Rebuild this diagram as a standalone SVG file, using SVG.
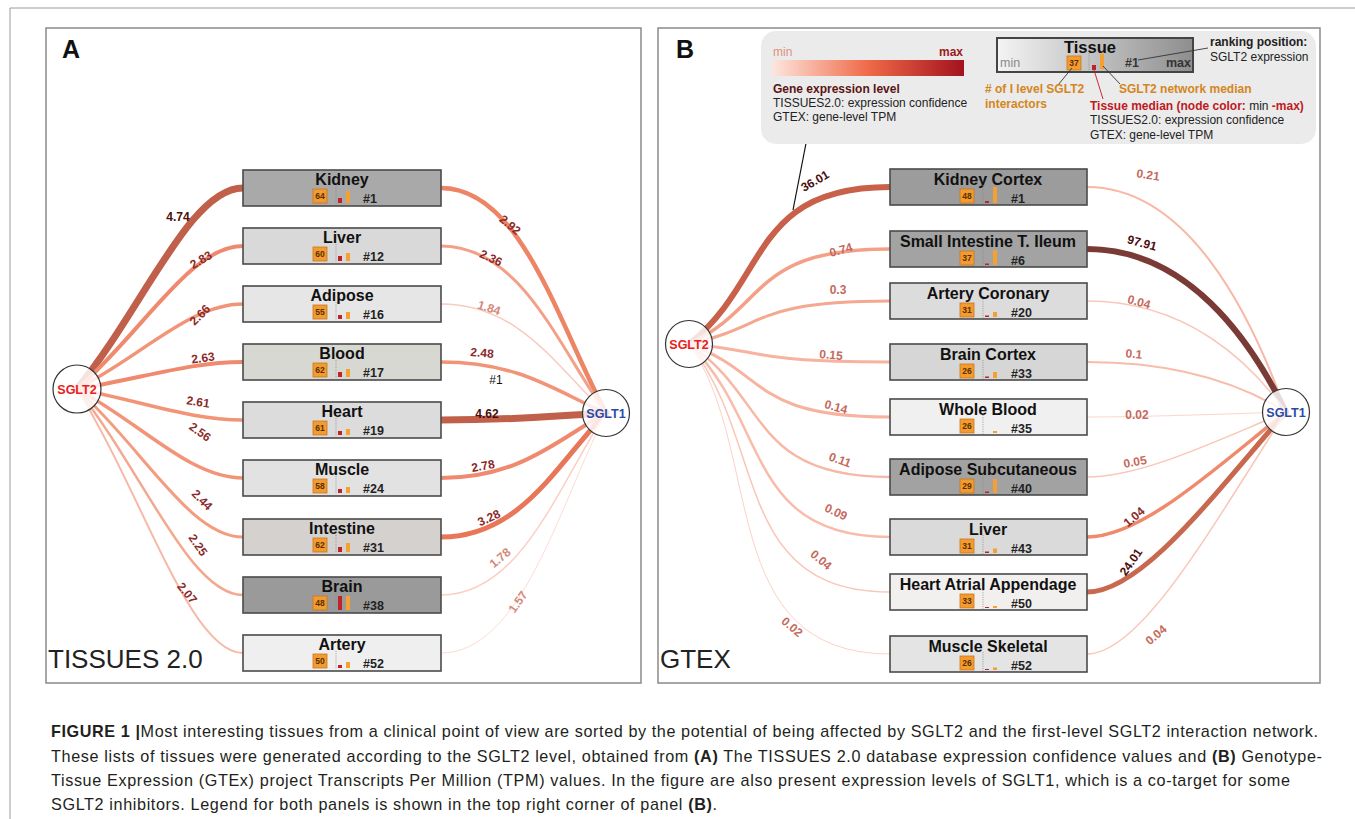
<svg xmlns="http://www.w3.org/2000/svg" width="1355" height="819" viewBox="0 0 1355 819">
<style>
text{font-family:"Liberation Sans",Arial,sans-serif}
.frame{fill:#fff;stroke:#8a8a8a;stroke-width:1.5}
.box{stroke:#4a4a4a;stroke-width:1.6}
.t{font-size:16px;font-weight:bold;text-anchor:middle;fill:#111}
.sq{fill:#f39a30;stroke:#c8781e;stroke-width:0.8}
.num{font-size:8.5px;font-weight:bold;text-anchor:middle;fill:#5a3000}
.ob{fill:#f5a030}
.rb{fill:#c0222a}
.dl{stroke:#888;stroke-width:0.8;stroke-dasharray:1 1.3}
.rk{font-size:12.5px;font-weight:bold;fill:#222}
.e{fill:none;stroke-linecap:round}
.el{font-size:12px;font-weight:bold;text-anchor:middle;fill:#8b2a2a}
.dk{fill:#4a0e0e}
.lt{fill:#d4887a}
.lb{fill:#c46a5c}
.circ{fill:#fff;fill-opacity:0.82;stroke:#333;stroke-width:1.2}
.g{font-size:12px;fill:#222}
.gb{font-size:12px;font-weight:bold}
.cap{font-size:16.2px;fill:#231f20}
.s2{font-size:12.5px;font-weight:bold;text-anchor:middle;fill:#e82020}
.s1{font-size:12.5px;font-weight:bold;text-anchor:middle;fill:#2a4aa8}
</style>
<defs>
<linearGradient id="lg" x1="0" y1="0" x2="1" y2="0">
<stop offset="0" stop-color="#fde6de"/><stop offset="0.5" stop-color="#ef6a48"/><stop offset="1" stop-color="#a3121e"/>
</linearGradient>
<linearGradient id="tg" x1="0" y1="0" x2="1" y2="0">
<stop offset="0" stop-color="#f4f4f4"/><stop offset="1" stop-color="#8e8e8e"/>
</linearGradient>
</defs>
<rect width="1355" height="819" fill="#fff"/>
<line x1="10" y1="8" x2="1355" y2="8" stroke="#9a9a9a" stroke-width="1"/>
<line x1="10" y1="8" x2="10" y2="819" stroke="#9a9a9a" stroke-width="1"/>
<rect class="frame" x="46" y="28" width="595" height="655"/>
<rect class="frame" x="658" y="28" width="662" height="655"/>
<text x="62" y="58" font-size="25" font-weight="bold" fill="#111">A</text>
<text x="676" y="58" font-size="25" font-weight="bold" fill="#111">B</text>
<text x="48" y="668" font-size="26" fill="#222">TISSUES 2.0</text>
<text x="660" y="668" font-size="26" fill="#222">GTEX</text>

<g id="connectors">
<path class="e" d="M77 389C143 308.6 190 188 243 188" stroke="#c0604a" stroke-width="7"/>
<path class="e" d="M77 389C143 331.8 190 246 243 246" stroke="#f08a6e" stroke-width="4"/>
<path class="e" d="M77 389C143 355 190 304 243 304" stroke="#f29478" stroke-width="3.5"/>
<path class="e" d="M77 389C143 378.2 190 362 243 362" stroke="#f08a6e" stroke-width="4"/>
<path class="e" d="M77 389C143 401.4 190 420 243 420" stroke="#f29478" stroke-width="3.5"/>
<path class="e" d="M77 389C143 424.6 190 478 243 478" stroke="#f29478" stroke-width="3.5"/>
<path class="e" d="M77 389C143 448.2 190 537 243 537" stroke="#f39c80" stroke-width="3"/>
<path class="e" d="M77 389C143 471.4 190 595 243 595" stroke="#f5a890" stroke-width="2.5"/>
<path class="e" d="M77 389C143 494.6 190 653 243 653" stroke="#f7b8a6" stroke-width="2"/>
<path class="e" d="M441 188C521 188 558 323 606 413" stroke="#ee8466" stroke-width="4.5"/>
<path class="e" d="M441 246C521 246 558 346.2 606 413" stroke="#f4a088" stroke-width="3"/>
<path class="e" d="M441 304C521 304 558 369.4 606 413" stroke="#f9cabd" stroke-width="1.5"/>
<path class="e" d="M441 362C521 362 558 392.6 606 413" stroke="#f29478" stroke-width="3.5"/>
<path class="e" d="M441 420C521 420 558 415.8 606 413" stroke="#c0604a" stroke-width="7"/>
<path class="e" d="M441 478C521 478 558 439 606 413" stroke="#f08a6e" stroke-width="4"/>
<path class="e" d="M441 537C521 537 558 462.6 606 413" stroke="#e87658" stroke-width="5"/>
<path class="e" d="M441 595C521 595 558 485.8 606 413" stroke="#fad0c4" stroke-width="1.5"/>
<path class="e" d="M441 653C521 653 558 509 606 413" stroke="#fcdcd4" stroke-width="1"/>
<path class="e" d="M689 344C769 281.2 750 187 890 187" stroke="#c8604a" stroke-width="6"/>
<path class="e" d="M689 344C769 306 750 249 890 249" stroke="#f4a088" stroke-width="3.5"/>
<path class="e" d="M689 344C769 326.8 750 301 890 301" stroke="#f5a890" stroke-width="3"/>
<path class="e" d="M689 344C769 351.2 750 362 890 362" stroke="#f7b3a0" stroke-width="3"/>
<path class="e" d="M689 344C769 373.2 750 417 890 417" stroke="#f7b3a0" stroke-width="3"/>
<path class="e" d="M689 344C769 397.2 750 477 890 477" stroke="#f7b8a6" stroke-width="2.5"/>
<path class="e" d="M689 344C769 421.2 745 537 890 537" stroke="#f8bcaa" stroke-width="2.5"/>
<path class="e" d="M689 344C767 440 732 592 890 592" stroke="#f9c6b8" stroke-width="1.5"/>
<path class="e" d="M689 344C765 450 715 654 890 654" stroke="#fbd2c6" stroke-width="1"/>
<path class="e" d="M1087 187C1187 187 1250 310.8 1286 412" stroke="#f8b8a6" stroke-width="2"/>
<path class="e" d="M1087 249C1187 249 1250 338.7 1286 412" stroke="#7a3a35" stroke-width="6"/>
<path class="e" d="M1087 301C1187 301 1250 362 1286 412" stroke="#f9c8ba" stroke-width="1.5"/>
<path class="e" d="M1087 362C1187 362 1250 389.5 1286 412" stroke="#f8bcaa" stroke-width="2"/>
<path class="e" d="M1087 417C1142 417 1215 414.3 1286 412" stroke="#fbd6cc" stroke-width="1"/>
<path class="e" d="M1087 477C1142 477 1215 441.3 1286 412" stroke="#f9c6b8" stroke-width="1.5"/>
<path class="e" d="M1087 537C1142 537 1215 468.3 1286 412" stroke="#ef8a6c" stroke-width="3.5"/>
<path class="e" d="M1087 592C1142 592 1215 493 1286 412" stroke="#c8684e" stroke-width="5"/>
<path class="e" d="M1087 654C1142 654 1215 520.9 1286 412" stroke="#f9c6b8" stroke-width="1.5"/>
<line x1="809" y1="128" x2="793" y2="210" stroke="#111" stroke-width="1.2"/>
</g>

<g id="edge-labels">
<text class="el dk" transform="translate(178,217)" y="4">4.74</text>
<text class="el" transform="translate(201,260) rotate(-30)" y="4">2.83</text>
<text class="el" transform="translate(200,315) rotate(-45)" y="4">2.66</text>
<text class="el" transform="translate(203,358) rotate(-8)" y="4">2.63</text>
<text class="el" transform="translate(198,402) rotate(8)" y="4">2.61</text>
<text class="el" transform="translate(200,432) rotate(35)" y="4">2.56</text>
<text class="el" transform="translate(202,500) rotate(45)" y="4">2.44</text>
<text class="el" transform="translate(198,545) rotate(55)" y="4">2.25</text>
<text class="el" transform="translate(187,593) rotate(50)" y="4">2.07</text>
<text class="el" transform="translate(510,225) rotate(40)" y="4">2.92</text>
<text class="el" transform="translate(491,258) rotate(25)" y="4">2.36</text>
<text class="el lt" transform="translate(489,308) rotate(18)" y="4">1.84</text>
<text class="el" transform="translate(482,353) rotate(5)" y="4">2.48</text>
<text x="496" y="384" font-size="12" text-anchor="middle" fill="#111">#1</text>
<text class="el dk" transform="translate(487,414)" y="4">4.62</text>
<text class="el" transform="translate(483,466) rotate(-10)" y="4">2.78</text>
<text class="el" transform="translate(489,518) rotate(-25)" y="4">3.28</text>
<text class="el lt" transform="translate(500,558) rotate(-40)" y="4">1.78</text>
<text class="el lt" transform="translate(518,602) rotate(-55)" y="4">1.57</text>
<text class="el dk" transform="translate(815,181) rotate(-30)" y="4">36.01</text>
<text class="el lb" transform="translate(841,250) rotate(-15)" y="4">0.74</text>
<text class="el lb" transform="translate(838,290)" y="4">0.3</text>
<text class="el lb" transform="translate(831,355) rotate(5)" y="4">0.15</text>
<text class="el lb" transform="translate(836,407) rotate(15)" y="4">0.14</text>
<text class="el lb" transform="translate(840,460) rotate(20)" y="4">0.11</text>
<text class="el lb" transform="translate(836,512) rotate(25)" y="4">0.09</text>
<text class="el lb" transform="translate(821,560) rotate(40)" y="4">0.04</text>
<text class="el lb" transform="translate(792,627) rotate(40)" y="4">0.02</text>
<text class="el lb" transform="translate(1148,175) rotate(8)" y="4">0.21</text>
<text class="el dk" transform="translate(1142,243) rotate(15)" y="4">97.91</text>
<text class="el lb" transform="translate(1139,302) rotate(15)" y="4">0.04</text>
<text class="el lb" transform="translate(1134,354) rotate(5)" y="4">0.1</text>
<text class="el lb" transform="translate(1137,415)" y="4">0.02</text>
<text class="el lb" transform="translate(1135,462) rotate(-10)" y="4">0.05</text>
<text class="el" transform="translate(1134,517) rotate(-40)" y="4">1.04</text>
<text class="el dk" transform="translate(1131,562) rotate(-55)" y="4">24.01</text>
<text class="el lb" transform="translate(1156,635) rotate(-40)" y="4">0.04</text>
</g>

<g id="sglt2-a"><circle class="circ" cx="77" cy="389" r="24"/><text class="s2" x="77" y="393.5">SGLT2</text></g>
<g id="sglt1-a"><circle class="circ" cx="606" cy="413" r="23.5"/><text class="s1" x="606" y="417.5">SGLT1</text></g>
<g id="sglt2-b"><circle class="circ" cx="689" cy="344" r="23.5"/><text class="s2" x="689" y="348.5">SGLT2</text></g>
<g id="sglt1-b"><circle class="circ" cx="1286" cy="412" r="23.5"/><text class="s1" x="1286" y="416.5">SGLT1</text></g>

<g id="a-kidney" transform="translate(243,170)"><rect class="box" width="198" height="36" fill="#a9a9a9"/><text class="t" x="99" y="15">Kidney</text><rect class="sq" x="70" y="19" width="14" height="14"/><text class="num" x="77" y="29">64</text><line class="dl" x1="93" y1="16" x2="93" y2="34"/><rect class="rb" x="95" y="28" width="4" height="5"/><rect class="ob" x="103" y="21" width="4" height="12"/><text class="rk" x="120" y="33">#1</text></g>
<g id="a-liver" transform="translate(243,228)"><rect class="box" width="198" height="36" fill="#d9d9d9"/><text class="t" x="99" y="15">Liver</text><rect class="sq" x="70" y="19" width="14" height="14"/><text class="num" x="77" y="29">60</text><line class="dl" x1="93" y1="16" x2="93" y2="34"/><rect class="rb" x="95" y="28" width="4" height="5"/><rect class="ob" x="103" y="25" width="4" height="8"/><text class="rk" x="120" y="33">#12</text></g>
<g id="a-adipose" transform="translate(243,286)"><rect class="box" width="198" height="36" fill="#e6e6e6"/><text class="t" x="99" y="15">Adipose</text><rect class="sq" x="70" y="19" width="14" height="14"/><text class="num" x="77" y="29">55</text><line class="dl" x1="93" y1="16" x2="93" y2="34"/><rect class="rb" x="95" y="29" width="4" height="4"/><rect class="ob" x="103" y="26" width="4" height="7"/><text class="rk" x="120" y="33">#16</text></g>
<g id="a-blood" transform="translate(243,344)"><rect class="box" width="198" height="36" fill="#d8d8d3"/><text class="t" x="99" y="15">Blood</text><rect class="sq" x="70" y="19" width="14" height="14"/><text class="num" x="77" y="29">62</text><line class="dl" x1="93" y1="16" x2="93" y2="34"/><rect class="rb" x="95" y="28" width="4" height="5"/><rect class="ob" x="103" y="25" width="4" height="8"/><text class="rk" x="120" y="33">#17</text></g>
<g id="a-heart" transform="translate(243,402)"><rect class="box" width="198" height="36" fill="#dcdcdc"/><text class="t" x="99" y="15">Heart</text><rect class="sq" x="70" y="19" width="14" height="14"/><text class="num" x="77" y="29">61</text><line class="dl" x1="93" y1="16" x2="93" y2="34"/><rect class="rb" x="95" y="29" width="4" height="4"/><rect class="ob" x="103" y="27" width="4" height="6"/><text class="rk" x="120" y="33">#19</text></g>
<g id="a-muscle" transform="translate(243,460)"><rect class="box" width="198" height="36" fill="#e2e2e2"/><text class="t" x="99" y="15">Muscle</text><rect class="sq" x="70" y="19" width="14" height="14"/><text class="num" x="77" y="29">58</text><line class="dl" x1="93" y1="16" x2="93" y2="34"/><rect class="rb" x="95" y="29" width="4" height="4"/><rect class="ob" x="103" y="27" width="4" height="6"/><text class="rk" x="120" y="33">#24</text></g>
<g id="a-intestine" transform="translate(243,519)"><rect class="box" width="198" height="36" fill="#d4d1cf"/><text class="t" x="99" y="15">Intestine</text><rect class="sq" x="70" y="19" width="14" height="14"/><text class="num" x="77" y="29">62</text><line class="dl" x1="93" y1="16" x2="93" y2="34"/><rect class="rb" x="95" y="28" width="4" height="5"/><rect class="ob" x="103" y="24" width="4" height="9"/><text class="rk" x="120" y="33">#31</text></g>
<g id="a-brain" transform="translate(243,577)"><rect class="box" width="198" height="36" fill="#9a9a9a"/><text class="t" x="99" y="15">Brain</text><rect class="sq" x="70" y="19" width="14" height="14"/><text class="num" x="77" y="29">48</text><line class="dl" x1="93" y1="16" x2="93" y2="34"/><rect class="rb" x="95" y="19" width="4" height="14"/><rect class="ob" x="103" y="19" width="4" height="14"/><text class="rk" x="120" y="33">#38</text></g>
<g id="a-artery" transform="translate(243,635)"><rect class="box" width="198" height="36" fill="#efefef"/><text class="t" x="99" y="15">Artery</text><rect class="sq" x="70" y="19" width="14" height="14"/><text class="num" x="77" y="29">50</text><line class="dl" x1="93" y1="16" x2="93" y2="34"/><rect class="rb" x="95" y="30" width="4" height="3"/><rect class="ob" x="103" y="27" width="4" height="6"/><text class="rk" x="120" y="33">#52</text></g>

<g id="b-kidney-cortex" transform="translate(890,169)"><rect class="box" width="197" height="36" fill="#9c9c9c"/><text class="t" x="98" y="15.5">Kidney Cortex</text><rect class="sq" x="70" y="20" width="14" height="14"/><text class="num" x="77" y="30">48</text><line class="dl" x1="93" y1="16" x2="93" y2="35"/><rect class="rb" x="95" y="32" width="4" height="2"/><rect class="ob" x="103" y="18" width="4" height="16"/><text class="rk" x="121" y="34">#1</text></g>
<g id="b-small-intestine" transform="translate(890,231)"><rect class="box" width="197" height="36" fill="#a3a3a3"/><text class="t" x="98" y="15.5">Small Intestine T. Ileum</text><rect class="sq" x="70" y="20" width="14" height="14"/><text class="num" x="77" y="30">37</text><line class="dl" x1="93" y1="16" x2="93" y2="35"/><rect class="rb" x="95" y="32.5" width="4" height="1.5"/><rect class="ob" x="103" y="19" width="4" height="15"/><text class="rk" x="121" y="34">#6</text></g>
<g id="b-artery-coronary" transform="translate(890,283)"><rect class="box" width="197" height="36" fill="#dcdcdc"/><text class="t" x="98" y="15.5">Artery Coronary</text><rect class="sq" x="70" y="20" width="14" height="14"/><text class="num" x="77" y="30">31</text><line class="dl" x1="93" y1="16" x2="93" y2="35"/><rect class="rb" x="95" y="32.5" width="4" height="1.5"/><rect class="ob" x="103" y="29" width="4" height="5"/><text class="rk" x="121" y="34">#20</text></g>
<g id="b-brain-cortex" transform="translate(890,344)"><rect class="box" width="197" height="36" fill="#d6d6d6"/><text class="t" x="98" y="15.5">Brain Cortex</text><rect class="sq" x="70" y="20" width="14" height="14"/><text class="num" x="77" y="30">26</text><line class="dl" x1="93" y1="16" x2="93" y2="35"/><rect class="rb" x="95" y="32.5" width="4" height="1.5"/><rect class="ob" x="103" y="28" width="4" height="6"/><text class="rk" x="121" y="34">#33</text></g>
<g id="b-whole-blood" transform="translate(890,399)"><rect class="box" width="197" height="36" fill="#f0f0f0"/><text class="t" x="98" y="15.5">Whole Blood</text><rect class="sq" x="70" y="20" width="14" height="14"/><text class="num" x="77" y="30">26</text><line class="dl" x1="93" y1="16" x2="93" y2="35"/><rect class="ob" x="103" y="32" width="4" height="2"/><text class="rk" x="121" y="34">#35</text></g>
<g id="b-adipose-subcutaneous" transform="translate(890,459)"><rect class="box" width="197" height="36" fill="#a2a2a2"/><text class="t" x="98" y="15.5">Adipose Subcutaneous</text><rect class="sq" x="70" y="20" width="14" height="14"/><text class="num" x="77" y="30">29</text><line class="dl" x1="93" y1="16" x2="93" y2="35"/><rect class="rb" x="95" y="32.5" width="4" height="1.5"/><rect class="ob" x="103" y="20" width="4" height="14"/><text class="rk" x="121" y="34">#40</text></g>
<g id="b-liver" transform="translate(890,519)"><rect class="box" width="197" height="36" fill="#dadada"/><text class="t" x="98" y="15.5">Liver</text><rect class="sq" x="70" y="20" width="14" height="14"/><text class="num" x="77" y="30">31</text><line class="dl" x1="93" y1="16" x2="93" y2="35"/><rect class="rb" x="95" y="32.5" width="4" height="1.5"/><rect class="ob" x="103" y="29.5" width="4" height="4.5"/><text class="rk" x="121" y="34">#43</text></g>
<g id="b-heart-atrial" transform="translate(890,574)"><rect class="box" width="197" height="36" fill="#f2f0ef"/><text class="t" x="98" y="15.5">Heart Atrial Appendage</text><rect class="sq" x="70" y="20" width="14" height="14"/><text class="num" x="77" y="30">33</text><line class="dl" x1="93" y1="16" x2="93" y2="35"/><rect class="rb" x="95" y="33" width="4" height="1"/><rect class="ob" x="103" y="32" width="4" height="2"/><text class="rk" x="121" y="34">#50</text></g>
<g id="b-muscle-skeletal" transform="translate(890,636)"><rect class="box" width="197" height="36" fill="#e4e4e4"/><text class="t" x="98" y="15.5">Muscle Skeletal</text><rect class="sq" x="70" y="20" width="14" height="14"/><text class="num" x="77" y="30">26</text><line class="dl" x1="93" y1="16" x2="93" y2="35"/><rect class="rb" x="95" y="33" width="4" height="1"/><rect class="ob" x="103" y="31.5" width="4" height="2.5"/><text class="rk" x="121" y="34">#52</text></g>

<g id="legend">
<rect x="761" y="31" width="555" height="113" rx="15" fill="#ebebeb"/>
<text x="773" y="56" font-size="12" fill="#e0907c">min</text>
<text x="963" y="56" font-size="12" font-weight="bold" text-anchor="end" fill="#9b1b1b">max</text>
<rect x="772" y="60" width="192" height="16" fill="url(#lg)"/>
<text class="gb" x="773" y="93" fill="#5a1414">Gene expression level</text>
<text class="g" x="773" y="107">TISSUES2.0: expression confidence</text>
<text class="g" x="773" y="121">GTEX: gene-level TPM</text>
<rect x="997" y="38" width="196" height="34" fill="url(#tg)" stroke="#444" stroke-width="2"/>
<text x="1090" y="53" font-size="16.5" font-weight="bold" text-anchor="middle" fill="#111">Tissue</text>
<text x="1000" y="67" font-size="12.5" fill="#8a8a8a">min</text>
<rect class="sq" x="1067" y="56" width="14" height="14"/><text class="num" x="1074" y="66">37</text>
<line class="dl" x1="1089" y1="53" x2="1089" y2="70"/>
<rect class="rb" x="1092" y="65" width="4" height="5"/>
<rect class="ob" x="1100" y="54" width="4" height="15"/>
<text x="1125" y="67" font-size="12.5" font-weight="bold" fill="#333">#1</text>
<text x="1166" y="67" font-size="12.5" font-weight="bold" fill="#333">max</text>
<line x1="1138" y1="60" x2="1208" y2="48" stroke="#333" stroke-width="0.9"/>
<line x1="1058" y1="85" x2="1072" y2="68" stroke="#333" stroke-width="0.9"/>
<line x1="1094" y1="70" x2="1103" y2="99" stroke="#c0191e" stroke-width="0.9"/>
<line x1="1103" y1="66" x2="1120" y2="84" stroke="#333" stroke-width="0.9"/>
<text class="gb" x="1210" y="46" fill="#222">ranking position:</text>
<text class="g" x="1210" y="61">SGLT2 expression</text>
<text class="gb" x="985" y="93" fill="#d4861c"># of I level SGLT2</text>
<text class="gb" x="985" y="108" fill="#d4861c">interactors</text>
<text class="gb" x="1119" y="93" fill="#d4861c">SGLT2 network median</text>
<text class="gb" x="1090" y="110" fill="#c0191e">Tissue median (node color: <tspan font-weight="normal" fill="#222">min </tspan>-max)</text>
<text class="g" x="1090" y="124">TISSUES2.0: expression confidence</text>
<text class="g" x="1090" y="139">GTEX: gene-level TPM</text>
</g>

<g id="caption">
<text class="cap" x="51" y="737" textLength="1267" lengthAdjust="spacing"><tspan font-weight="bold">FIGURE 1 |</tspan>Most interesting tissues from a clinical point of view are sorted by the potential of being affected by SGLT2 and the first-level SGLT2 interaction network.</text>
<text class="cap" x="51" y="761.5" textLength="1271" lengthAdjust="spacing">These lists of tissues were generated according to the SGLT2 level, obtained from <tspan font-weight="bold">(A)</tspan> The TISSUES 2.0 database expression confidence values and <tspan font-weight="bold">(B)</tspan> Genotype-</text>
<text class="cap" x="51" y="786" textLength="1239" lengthAdjust="spacing">Tissue Expression (GTEx) project Transcripts Per Million (TPM) values. In the figure are also present expression levels of SGLT1, which is a co-target for some</text>
<text class="cap" x="51" y="810" textLength="666" lengthAdjust="spacing">SGLT2 inhibitors. Legend for both panels is shown in the top right corner of panel <tspan font-weight="bold">(B)</tspan>.</text>
</g>
</svg>
